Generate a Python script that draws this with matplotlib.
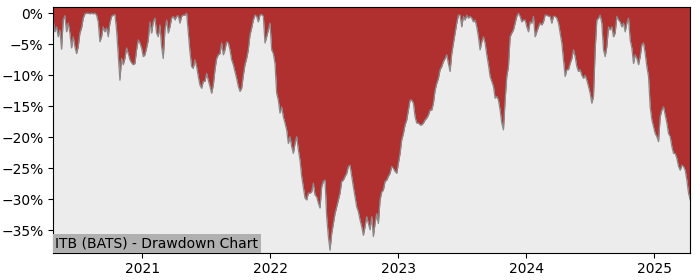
#!/usr/bin/env python3

import pandas as pd
import matplotlib
matplotlib.use("Agg")
import matplotlib.pyplot as plt
import matplotlib.ticker as ticker
import matplotlib.dates as mdates

# drawdown in percent at evenly spaced dates
start_date = "2020-04-22"
end_date = "2025-04-13"
drawdown_pct = [
    -1.1, -3.0, -2.2, -3.8, -2.7, -5.8, -1.1, -0.4, -3.0, -1.6,
    -3.2, -5.6, -3.8, -5.4, -6.5, -5.4, -3.2, -2.4, -0.8, -0.1,
    0.0, 0.0, -0.1, 0.0, -0.1, 0.0, -0.3, -1.4, -4.6, -3.8,
    -2.2, -3.0, -2.4, -3.8, -1.6, -0.5, -0.3, -0.2, -2.7, -6.7,
    -10.8, -7.3, -8.3, -7.3, -5.6, -6.5, -7.5, -8.0, -8.3, -8.1,
    -5.9, -4.3, -4.8, -5.6, -7.0, -6.7, -5.6, -4.3, -1.4, -3.2,
    -1.4, -0.8, -3.2, -3.8, -1.9, -5.4, -7.3, -2.7, -1.1, -3.2,
    -2.2, -0.8, -0.5, -1.1, -0.5, -0.4, -1.6, -0.5, -0.3, -0.3,
    0.0, -3.2, -6.2, -8.6, -8.9, -7.5, -8.6, -10.2, -11.6, -12.1,
    -11.0, -11.0, -9.7, -10.8, -11.8, -12.9, -11.6, -9.1, -7.3, -6.7,
    -6.5, -4.8, -6.7, -5.9, -4.6, -4.8, -5.9, -7.5, -8.3, -9.4,
    -10.5, -11.8, -12.6, -12.1, -10.0, -8.3, -7.3, -5.9, -3.5, -2.4,
    -1.1, -0.3, -0.5, -1.4, -0.3, -0.2, -0.5, -4.8, -3.8, -2.7,
    -1.6, -5.9, -6.5, -8.1, -12.9, -14.0, -16.1, -15.1, -16.7, -17.7,
    -18.8, -21.0, -19.9, -21.5, -22.6, -21.0, -19.9, -22.0, -23.7, -26.3,
    -28.0, -29.8, -30.1, -29.0, -29.0, -28.8, -27.4, -29.3, -29.6, -30.6,
    -31.4, -28.0, -27.1, -26.9, -32.8, -36.0, -38.2, -35.5, -33.9, -32.3,
    -31.2, -30.1, -29.0, -27.1, -26.9, -26.3, -25.8, -24.7, -24.5, -26.3,
    -28.0, -29.6, -31.2, -32.0, -33.3, -34.4, -35.8, -34.4, -32.8, -33.9,
    -34.9, -32.8, -36.0, -33.9, -32.3, -33.9, -30.1, -28.8, -28.5, -27.1,
    -26.9, -26.3, -25.8, -24.7, -25.0, -25.5, -25.8, -24.2, -22.6, -20.4,
    -19.4, -18.0, -17.2, -15.6, -14.0, -14.0, -14.5, -16.7, -17.7, -17.7,
    -18.0, -18.0, -17.7, -17.2, -16.9, -16.4, -15.6, -15.6, -14.5, -12.4,
    -11.3, -10.5, -9.1, -8.6, -7.8, -7.3, -6.7, -8.1, -9.4, -6.5,
    -4.8, -3.2, -1.6, -0.3, -0.3, -2.2, -0.5, -1.1, -0.3, -0.8,
    -0.5, -0.8, -1.4, -1.1, -2.2, -3.8, -5.9, -4.6, -3.8, -4.8,
    -6.7, -8.3, -10.2, -11.0, -11.8, -13.7, -13.4, -14.0, -15.6, -17.7,
    -18.8, -14.0, -10.2, -8.6, -3.8, -3.2, -2.7, -1.6, -0.5, 0.0,
    -0.5, -1.4, -1.1, -1.1, -2.2, -3.0, -1.4, -1.6, -0.5, -3.8,
    -3.0, -2.2, -1.6, -1.9, -1.4, -0.3, -0.3, -0.5, -0.5, -1.6,
    -0.5, -0.5, -0.8, -1.6, -3.2, -4.8, -7.5, -10.2, -9.1, -9.1,
    -8.1, -7.3, -5.9, -7.0, -8.6, -9.4, -9.1, -10.0, -10.5, -10.0,
    -10.8, -11.8, -12.9, -14.5, -13.4, -5.9, -1.1, -0.8, -0.3, -1.6,
    -5.9, -7.0, -5.4, -2.2, -2.7, -2.2, -3.8, -3.2, -0.5, -1.1,
    -1.4, -2.2, -1.6, -3.0, -1.6, -0.8, -4.3, -5.6, -8.1, -6.7,
    -7.3, -8.3, -7.0, -5.1, -4.8, -6.5, -8.6, -10.2, -15.1, -17.2,
    -18.3, -19.4, -19.9, -20.7, -16.7, -15.6, -15.1, -16.4, -17.7, -19.4,
    -19.9, -21.5, -22.6, -22.6, -23.4, -24.7, -25.3, -24.5, -24.7, -25.3,
    -26.9, -29.0, -30.1,
]
title = "ITB (BATS) - Drawdown Chart"
y_limits = (-38.6, 1.0)
y_ticks = [-35, -30, -25, -20, -15, -10, -5, 0]

dates = pd.date_range(start_date, end_date, periods=len(drawdown_pct))
df = pd.DataFrame({"Drawdown": drawdown_pct}, index=dates)

fig = plt.figure(figsize=(7, 2.8), dpi=100)
ax = fig.add_axes([0.076, 0.0975, 0.91, 0.8775])
ax.set_facecolor("#ececec")

ax.fill_between(df.index, df["Drawdown"], y_limits[1], color="#b03030", linewidth=0)
ax.plot(df.index, df["Drawdown"], color="#8a8a8a", linewidth=0.9)

ax.set_xlim(df.index[0], df.index[-1])
ax.set_ylim(*y_limits)
ax.set_yticks(y_ticks)
ax.yaxis.set_major_formatter(ticker.PercentFormatter(xmax=100, decimals=0))
ax.xaxis.set_major_locator(mdates.YearLocator())
ax.xaxis.set_major_formatter(mdates.DateFormatter("%Y"))

ax.annotate(title, xy=(0, 0), xycoords="axes fraction", xytext=(1.6, 1.6),
            textcoords="offset points", ha="left", va="bottom", fontsize=10,
            bbox=dict(boxstyle="square,pad=0.15", fc="#b0b0b0", ec="none"))

fig.savefig("out.png", dpi=100)
